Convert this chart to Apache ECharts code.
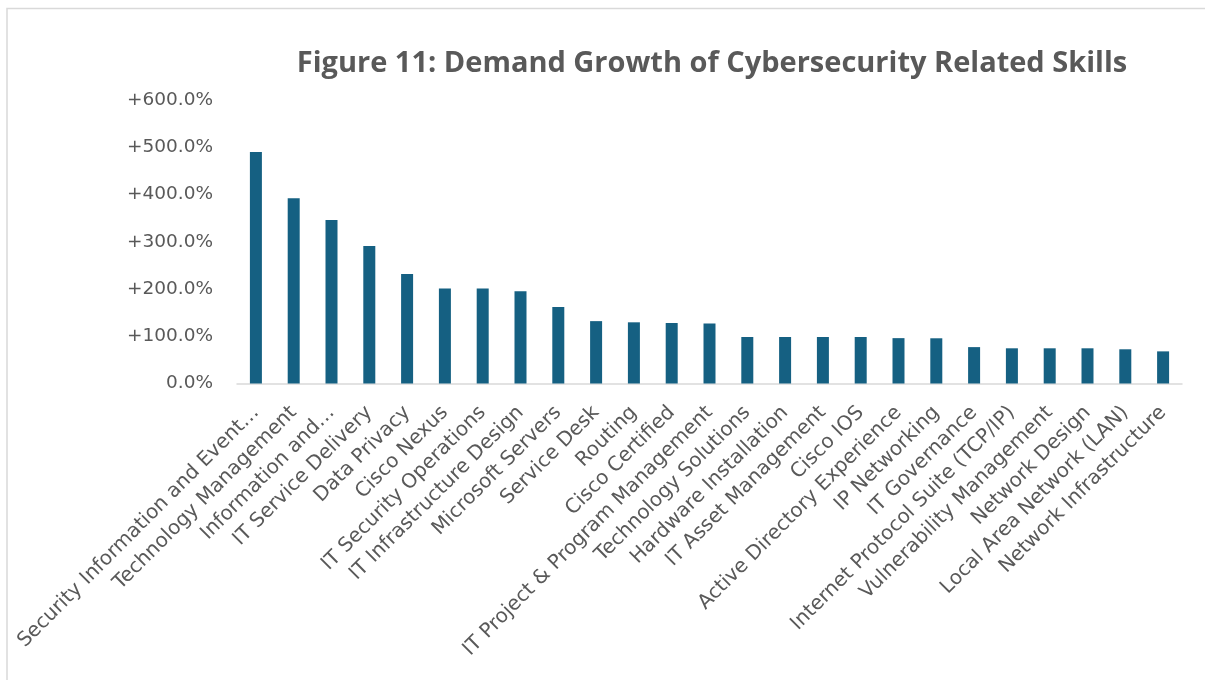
<!DOCTYPE html>
<html>
<head>
<meta charset="utf-8">
<title>Demand Growth of Cybersecurity Related Skills</title>
<script src="https://cdn.jsdelivr.net/npm/echarts@6/dist/echarts.min.js"></script>
<style>
  html, body { margin: 0; padding: 0; background: #ffffff; }
  #chart { width: 1205px; height: 680px; }
</style>
</head>
<body>
<div id="chart"></div>
<script>
// Skills, in descending order of demand growth
const skills = [
  'Security Information and Event\u2026',
  'Technology Management',
  'Information and\u2026',
  'IT Service Delivery',
  'Data Privacy',
  'Cisco Nexus',
  'IT Security Operations',
  'IT Infrastructure Design',
  'Microsoft Servers',
  'Service Desk',
  'Routing',
  'Cisco Certified',
  'IT Project & Program Management',
  'Technology Solutions',
  'Hardware Installation',
  'IT Asset Management',
  'Cisco IOS',
  'Active Directory Experience',
  'IP Networking',
  'IT Governance',
  'Internet Protocol Suite (TCP/IP)',
  'Vulnerability Management',
  'Network Design',
  'Local Area Network (LAN)',
  'Network Infrastructure'
];

// Demand growth, percent
const growthPct = [
  490, 392, 346, 291, 232, 201, 201, 195, 162, 132, 129.5, 128, 127,
  98.4, 98.4, 98.4, 98.4, 96, 95.7, 77, 74.5, 74.5, 74.5, 72.4, 68
];

// Value axis range
const axisMin = 0;
const axisMax = 600;
const axisStep = 100;

const chartTitle = 'Figure 11: Demand Growth of Cybersecurity Related Skills';

const textGrey = '#595959';
const barBlue = '#156082';
const lineGrey = '#d9d9d9';

const chart = echarts.init(document.getElementById('chart'), null, { renderer: 'canvas' });

chart.setOption({
  animation: false,
  backgroundColor: '#ffffff',
  title: {
    text: chartTitle,
    left: 707,
    top: 44,
    textAlign: 'center',
    textStyle: {
      fontFamily: 'Open Sans',
      fontWeight: 'bold',
      fontSize: 29,
      color: textGrey
    }
  },
  graphic: [{
    type: 'rect',
    silent: true,
    shape: { x: 7, y: 8.5, width: 1400, height: 900 },
    style: { fill: 'none', stroke: lineGrey, lineWidth: 1.5 }
  }],
  grid: { left: 237, right: 23, top: 100, bottom: 296.5, containLabel: false },
  xAxis: {
    type: 'category',
    data: skills,
    axisLine: { show: true, lineStyle: { color: lineGrey, width: 1.5 } },
    axisTick: { show: false },
    axisLabel: {
      interval: 0,
      rotate: 45,
      margin: 26,
      fontFamily: 'DejaVu Sans',
      fontSize: 20,
      color: textGrey
    }
  },
  yAxis: {
    type: 'value',
    min: axisMin,
    max: axisMax,
    interval: axisStep,
    splitLine: { show: false },
    axisLine: { show: false },
    axisTick: { show: false },
    axisLabel: {
      margin: 24,
      fontFamily: 'DejaVu Sans',
      fontSize: 18.5,
      color: textGrey,
      formatter: v => (v > 0 ? '+' : '') + v.toFixed(1) + '%'
    }
  },
  series: [{
    type: 'bar',
    data: growthPct,
    barWidth: 12,
    itemStyle: { color: barBlue }
  }]
});
</script>
</body>
</html>
